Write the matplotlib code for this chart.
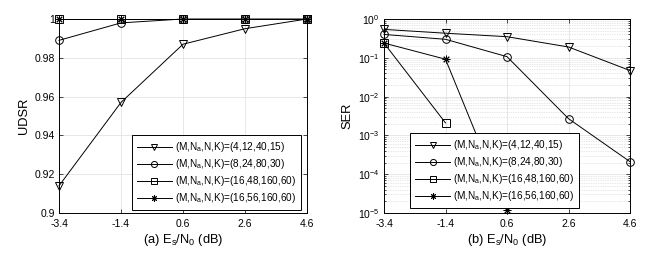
import numpy as np
import matplotlib
matplotlib.use("Agg")
import matplotlib.pyplot as plt
from matplotlib.ticker import LogLocator, NullFormatter

plt.rcParams['font.family'] = ['Liberation Sans', 'DejaVu Sans']
plt.rcParams['mathtext.default'] = 'regular'

snr = [-3.4, -1.4, 0.6, 2.6, 4.6]
labels = ['(M,N$_a$,N,K)=(4,12,40,15)', '(M,N$_a$,N,K)=(8,24,80,30)',
          '(M,N$_a$,N,K)=(16,48,160,60)', '(M,N$_a$,N,K)=(16,56,160,60)']
markers = ['v', 'o', 's', (8, 2, 0)]

udsr_1 = [0.914, 0.957, 0.987, 0.995, 1.0]
udsr_2 = [0.989, 0.998, 1.0, 1.0, 1.0]
udsr_3 = [1.0, 1.0, 1.0, 1.0, 1.0]
udsr_4 = [1.0, 1.0, 1.0, 1.0, 1.0]

ser_1 = [0.54, 0.43, 0.35, 0.19, 0.047]
ser_2 = [0.40, 0.30, 0.107, 0.0027, 2.1e-4]
ser_3 = [0.24, 0.0021, np.nan, np.nan, np.nan]
ser_4 = [0.24, 0.092, 1.22e-5, np.nan, np.nan]

udsr_ticks = [0.9, 0.92, 0.94, 0.96, 0.98, 1.0]
udsr_ticklabels = ['0.9', '0.92', '0.94', '0.96', '0.98', '1']

fig = plt.figure(figsize=(6.64, 2.54), dpi=100)
ax1 = fig.add_axes([59/664, 41/254, 248/664, 194/254])
ax2 = fig.add_axes([384/664, 41/254, 246/664, 194/254])

lw = 0.7
def draw(ax, series):
    for ys, m, lab in zip(series, markers, labels):
        ax.plot(snr, ys, color='black', lw=lw, marker=m, ms=5.5, mfc='none',
                mec='black', mew=0.7, label=lab, clip_on=False, zorder=3)

draw(ax1, [udsr_1, udsr_2, udsr_3, udsr_4])
draw(ax2, [ser_1, ser_2, ser_3, ser_4])

for ax in (ax1, ax2):
    ax.set_xlim(-3.4, 4.6)
    ax.set_xticks(snr)
    ax.set_xticklabels(['-3.4', '-1.4', '0.6', '2.6', '4.6'])
    ax.tick_params(direction='in', which='both', labelsize=7.5, width=0.5, length=3,
                   top=True, right=True)
    ax.tick_params(axis='x', which='both', pad=4.5)
    ax.tick_params(axis='y', which='both', pad=3)
    ax.tick_params(which='minor', length=1.5)
    for s in ax.spines.values():
        s.set_linewidth(0.7)
    ax.set_axisbelow(True)

ax1.set_ylim(0.9, 1.0)
ax1.set_yticks(udsr_ticks)
ax1.set_yticklabels(udsr_ticklabels)
ax1.grid(True, color='#e3e3e3', lw=0.6)
ax1.set_ylabel('UDSR', fontsize=9.3, labelpad=3.5)
ax1.set_xlabel('(a) E$_s$/N$_0$ (dB)', fontsize=9.3, labelpad=2)

ax2.set_yscale('log')
ax2.set_ylim(1e-5, 1.0)
ax2.yaxis.set_major_locator(LogLocator(base=10, numticks=10))
ax2.yaxis.set_minor_locator(LogLocator(base=10, subs=np.arange(2, 10), numticks=20))
ax2.yaxis.set_minor_formatter(NullFormatter())
ax2.grid(True, which='major', color='#e3e3e3', lw=0.6)
ax2.grid(True, which='minor', color='#cfcfcf', lw=0.5, ls=(0, (1, 1.5)))
ax2.set_ylabel('SER', fontsize=9.3, labelpad=3)
ax2.set_xlabel('(b) E$_s$/N$_0$ (dB)', fontsize=9.3, labelpad=2)

leg_kw = dict(fontsize=7.2, frameon=True, fancybox=False, edgecolor='black',
              framealpha=1, handlelength=3.5, handletextpad=0.3, borderpad=0.5,
              labelspacing=0.3, borderaxespad=0, loc='upper left', markerscale=0.8)
l1 = ax1.legend(bbox_to_anchor=(0.294, 0.402), **leg_kw)
l1.get_frame().set_linewidth(0.7)
l2 = ax2.legend(bbox_to_anchor=(0.106, 0.412), **leg_kw)
l2.get_frame().set_linewidth(0.7)
for l in (l1, l2):
    l.set_zorder(5)

fig.savefig('out.png', dpi=100)
